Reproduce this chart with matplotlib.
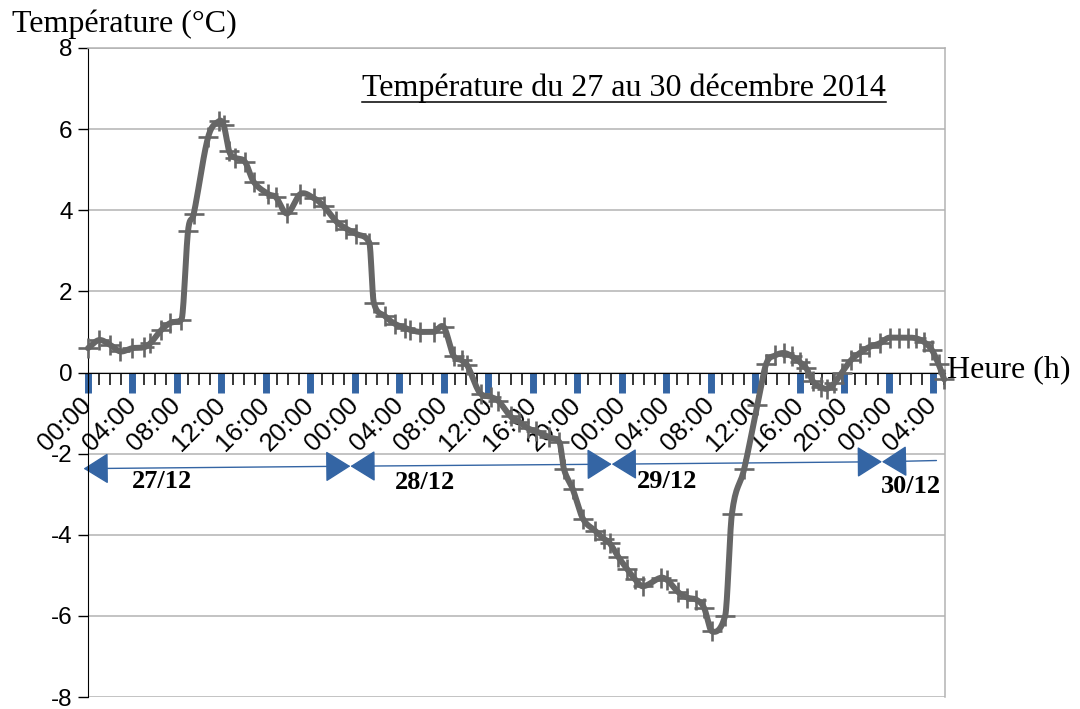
import numpy as np
import matplotlib
matplotlib.use("Agg")
import matplotlib.pyplot as plt
from matplotlib.ticker import FixedLocator
from matplotlib.transforms import blended_transform_factory
from matplotlib.lines import Line2D

# hours since 27/12 00:00 and temperature (°C)
hours = [0.0, 1.0, 2.0, 2.9, 4.0, 5.0, 5.6, 6.6, 7.4, 8.4, 9.0, 9.5, 10.8, 11.8, 12.2,
         12.7, 13.2, 14.1, 14.9, 16.2, 16.9, 17.9, 19.1, 20.3, 21.2, 22.3, 23.2, 24.1,
         25.3, 25.7, 26.7, 27.6, 28.5, 29.0, 29.9, 31.1, 32.0, 32.9, 33.6, 34.1, 35.3,
         36.2, 36.9, 38.0, 38.8, 39.6, 40.3, 41.5, 42.4, 42.8, 43.6, 44.5, 45.6, 46.4,
         46.9, 47.7, 48.5, 49.2, 49.9, 51.5, 52.1, 53.1, 53.9, 54.7, 55.4, 56.1, 57.3,
         57.9, 59.0, 60.2, 61.0, 61.8, 62.6, 63.3, 64.0, 64.6, 65.2, 65.9, 66.5, 67.1,
         67.8, 68.6, 69.4, 70.2, 71.2, 72.1, 72.9, 73.7, 74.5, 75.2, 75.9, 76.5, 77.0]
temps = [0.6, 0.8, 0.68, 0.52, 0.6, 0.62, 0.72, 1.05, 1.22, 1.3, 3.5, 3.9, 5.8, 6.2, 6.1,
         5.45, 5.3, 5.2, 4.7, 4.4, 4.32, 3.92, 4.4, 4.3, 4.1, 3.73, 3.55, 3.42,
         3.2, 1.72, 1.39, 1.2, 1.1, 1.05, 1.0, 1.0, 1.12, 0.4, 0.3, 0.18, -0.52,
         -0.6, -0.7, -1.08, -1.22, -1.38, -1.45, -1.6, -1.72, -2.38, -2.88, -3.6, -3.9, -4.1,
         -4.2, -4.55, -4.85, -5.1, -5.27, -5.06, -5.12, -5.42, -5.55, -5.6, -5.8, -6.38, -6.0,
         -3.5, -2.39, -0.8, 0.22, 0.42, 0.48, 0.4, 0.26, 0.1, -0.22, -0.36, -0.4, -0.27,
         0.0, 0.3, 0.48, 0.62, 0.72, 0.86, 0.86, 0.86, 0.84, 0.75, 0.55, 0.2, -0.17]

tick_hours = list(range(0, 77, 4))
tick_labels = ["00:00", "04:00", "08:00", "12:00", "16:00", "20:00"] * 3 + ["00:00", "04:00"]
days = ["27/12", "28/12", "29/12", "30/12"]

# hand drawn day arrows (hours, level) and label spots
day_bounds = [-0.4, 23.6, 47.1, 71.4, 76.3]
day_levels = [-2.37, -2.31, -2.26, -2.2, -2.17]
day_label_x = [6.65, 30.3, 52.1, 74.0]
day_label_y = [-2.69, -2.71, -2.69, -2.81]

GREY = "#666666"
BLUE = "#3465a4"
GRID = "#b3b3b3"
plt.rcParams["axes.unicode_minus"] = False


def smooth(x, y, n=16):
    # cubic hermite, centred slopes, limited only on monotone stretches
    x = np.asarray(x, float)
    y = np.asarray(y, float)
    h = np.diff(x)
    d = np.diff(y) / h
    m = np.zeros_like(y)
    m[0], m[-1] = d[0], d[-1]
    for k in range(1, len(x) - 1):
        m[k] = (y[k + 1] - y[k - 1]) / (x[k + 1] - x[k - 1])
        if d[k - 1] * d[k] > 0:
            lim = 3 * min(abs(d[k - 1]), abs(d[k]))
            m[k] = np.sign(m[k]) * min(abs(m[k]), lim)
        elif d[k - 1] * d[k] == 0:
            m[k] = 0.0
    t = np.linspace(0, 1, n, endpoint=False)
    h00 = 2 * t**3 - 3 * t**2 + 1
    h10 = t**3 - 2 * t**2 + t
    h01 = -2 * t**3 + 3 * t**2
    h11 = t**3 - t**2
    xs, ys = [], []
    for k in range(len(x) - 1):
        xs.append(x[k] + t * h[k])
        ys.append(h00 * y[k] + h10 * h[k] * m[k] + h01 * y[k + 1] + h11 * h[k] * m[k + 1])
    xs.append([x[-1]])
    ys.append([y[-1]])
    return np.concatenate(xs), np.concatenate(ys)


fig = plt.figure(figsize=(10.8, 7.09), dpi=100)
ax = fig.add_axes([88 / 1080, 1 - 697 / 709, (945 - 88) / 1080, (697 - 48) / 709])
ax.set_xlim(0, 77.07)
ax.set_ylim(-8, 8)

ax.spines["bottom"].set_position(("data", 0))
ax.spines["bottom"].set_color("black")
ax.spines["left"].set_color("black")
for s in ("top", "right"):
    ax.spines[s].set_color(GRID)
    ax.spines[s].set_linewidth(1.1)
ax.set_axisbelow(True)
ax.yaxis.grid(True, color=GRID, lw=1.1)

ax.set_yticks(range(-8, 9, 2))
ax.tick_params(axis="y", direction="out", length=7, width=1, labelsize=17.5, pad=4)
for lab in ax.get_yticklabels():
    lab.set_family("Liberation Sans")

ax.xaxis.set_major_locator(FixedLocator(tick_hours))
ax.set_xticklabels(tick_labels)
ax.xaxis.set_minor_locator(FixedLocator([h for h in range(0, 78) if h % 4]))
ax.tick_params(axis="x", which="major", direction="out", length=14.5, width=5,
               color=BLUE, labelsize=18.5, pad=6)
ax.tick_params(axis="x", which="minor", direction="out", length=8.6, width=1.1, color="black")
for lab in ax.get_xticklabels():
    lab.set_family("Liberation Sans")
    lab.set_rotation(45)
    lab.set_ha("right")
    lab.set_va("center")
    lab.set_rotation_mode("anchor")

xs, ys = smooth(hours, temps)
ax.plot(xs, ys, color=GREY, lw=4.3, solid_capstyle="round", solid_joinstyle="round",
        clip_on=False, zorder=3)
ax.plot(hours, temps, ls="none", marker="+", ms=14, mew=1.9, color=GREY,
        clip_on=False, zorder=4)

# day arrows
for i in range(len(days)):
    style = "<|-|>,head_length=0.8,head_width=0.5" if i < len(days) - 1 else "<|-,head_length=0.8,head_width=0.5"
    ax.annotate("", xy=(day_bounds[i + 1], day_levels[i + 1]),
                xytext=(day_bounds[i], day_levels[i]),
                arrowprops=dict(arrowstyle=style, color=BLUE, lw=1.0, shrinkA=0, shrinkB=0,
                                mutation_scale=20),
                annotation_clip=False, zorder=2)
    ax.text(day_label_x[i], day_label_y[i], days[i], ha="center", va="center",
            family="Liberation Serif", weight="bold", size=19)

# texts
fig.text(12 / 1080, 1 - 32 / 709, "Température (°C)", ha="left", va="baseline",
         family="Liberation Serif", size=23)
tr = blended_transform_factory(ax.transAxes, ax.transData)
ax.text(1.002, 0.07, "Heure (h)", transform=tr, ha="left", va="center",
        family="Liberation Serif", size=23, clip_on=False)
title = fig.text(624 / 1080, 1 - 96 / 709, "Température du 27 au 30 décembre 2014",
                 ha="center", va="baseline", family="Liberation Serif", size=23)

fig.canvas.draw()
bb = title.get_window_extent()
uy = bb.y0 + 0.2 * (bb.y1 - bb.y0) - 5
fig.add_artist(Line2D([bb.x0 / 1080, bb.x1 / 1080], [uy / 709, uy / 709],
                      color="black", lw=1.1, transform=fig.transFigure))

fig.savefig("out.png", dpi=100)
